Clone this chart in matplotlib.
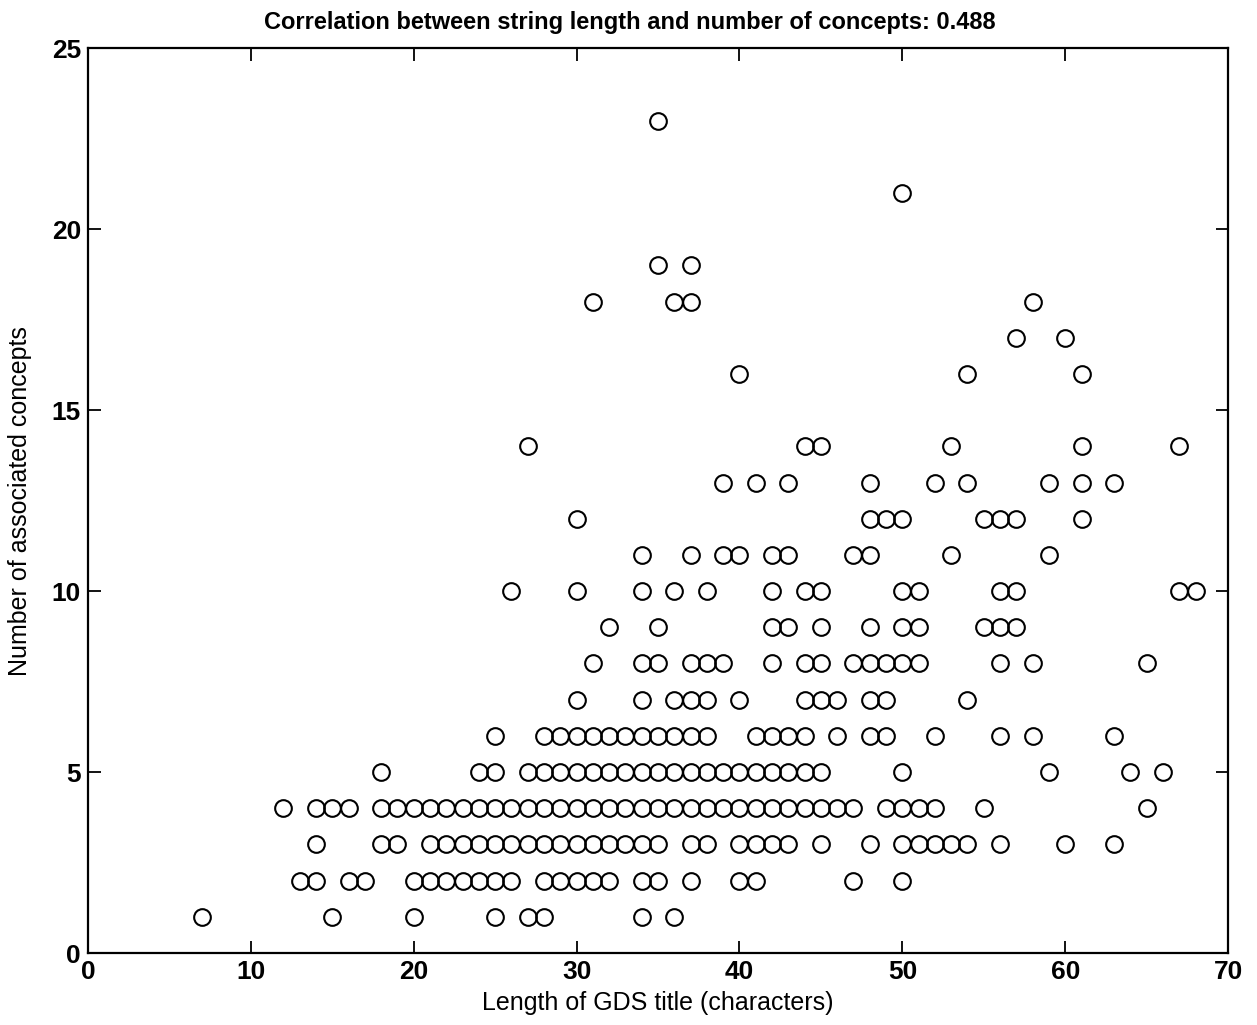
import matplotlib
matplotlib.use("Agg")
import matplotlib.pyplot as plt
import numpy as np

# title lengths (characters) observed for each concept count
len_c1 = [7, 15, 20, 25, 27, 28, 34, 36]
len_c2 = [13, 14, 16, 17, 20, 21, 22, 23, 24, 25, 26, 28, 29, 30, 31, 32, 34, 35,
          37, 40, 41, 47, 50]
len_c3 = [14, 18, 19] + list(range(21, 36)) + [37, 38, 40, 41, 42, 43, 45, 48,
                                              50, 51, 52, 53, 54, 56, 60, 63]
len_c4 = [12, 14, 15, 16] + list(range(18, 48)) + [49, 50, 51, 52, 55, 65]
len_c5 = [18, 24, 25] + list(range(27, 46)) + [50, 59, 64, 66]
len_c6 = [25] + list(range(28, 39)) + [41, 42, 43, 44, 46, 48, 49, 52, 56, 58, 63]
len_c7 = [30, 34, 36, 37, 38, 40, 44, 45, 46, 48, 49, 54]
len_c8 = [31, 34, 35, 37, 38, 39, 42, 44, 45, 47, 48, 49, 50, 51, 56, 58, 65]
len_c9 = [32, 35, 42, 43, 45, 48, 50, 51, 55, 56, 57]
len_c10 = [26, 30, 34, 36, 38, 42, 44, 45, 50, 51, 56, 57, 67, 68]
len_c11 = [34, 37, 39, 40, 42, 43, 47, 48, 53, 59]
len_c12 = [30, 48, 49, 50, 55, 56, 57, 61]
len_c13 = [39, 41, 43, 48, 52, 54, 59, 61, 63]
len_c14 = [27, 44, 45, 53, 61, 67]
len_c16 = [40, 54, 61]
len_c17 = [57, 60]
len_c18 = [31, 36, 37, 58]
len_c19 = [35, 37]
len_c21 = [50]
len_c23 = [35]

rows = {
    1: len_c1, 2: len_c2, 3: len_c3, 4: len_c4, 5: len_c5, 6: len_c6,
    7: len_c7, 8: len_c8, 9: len_c9, 10: len_c10, 11: len_c11, 12: len_c12,
    13: len_c13, 14: len_c14, 16: len_c16, 17: len_c17, 18: len_c18,
    19: len_c19, 21: len_c21, 23: len_c23,
}

x = np.concatenate([np.array(v, dtype=float) for v in rows.values()])
y = np.concatenate([np.full(len(v), k, dtype=float) for k, v in rows.items()])

plt.rcParams["font.family"] = ["Liberation Sans", "DejaVu Sans"]

fig = plt.figure(figsize=(12.57, 10.25), dpi=100)
ax = fig.add_axes([0.070, 0.0702, 0.907, 0.8828])

ax.plot(x, y, "o", markersize=12, markerfacecolor="none",
        markeredgecolor="black", markeredgewidth=1.5)

ax.set_xlim(0, 70)
ax.set_ylim(0, 25)
ax.set_xticks(np.arange(0, 71, 10))
ax.set_yticks(np.arange(0, 26, 5))

ax.tick_params(direction="in", length=9, width=1.3, top=True, right=True,
               labelsize=19, pad=5)
for lab in ax.get_xticklabels() + ax.get_yticklabels():
    lab.set_fontweight("bold")
for sp in ax.spines.values():
    sp.set_linewidth(1.6)

ax.set_xlabel("Length of GDS title (characters)", fontsize=18, labelpad=5)
ax.set_ylabel("Number of associated concepts", fontsize=18, labelpad=14)
ax.set_title("Correlation between string length and number of concepts: 0.488",
             fontsize=17, fontweight="bold", pad=14, x=0.475)

fig.savefig("out.png", dpi=100)
